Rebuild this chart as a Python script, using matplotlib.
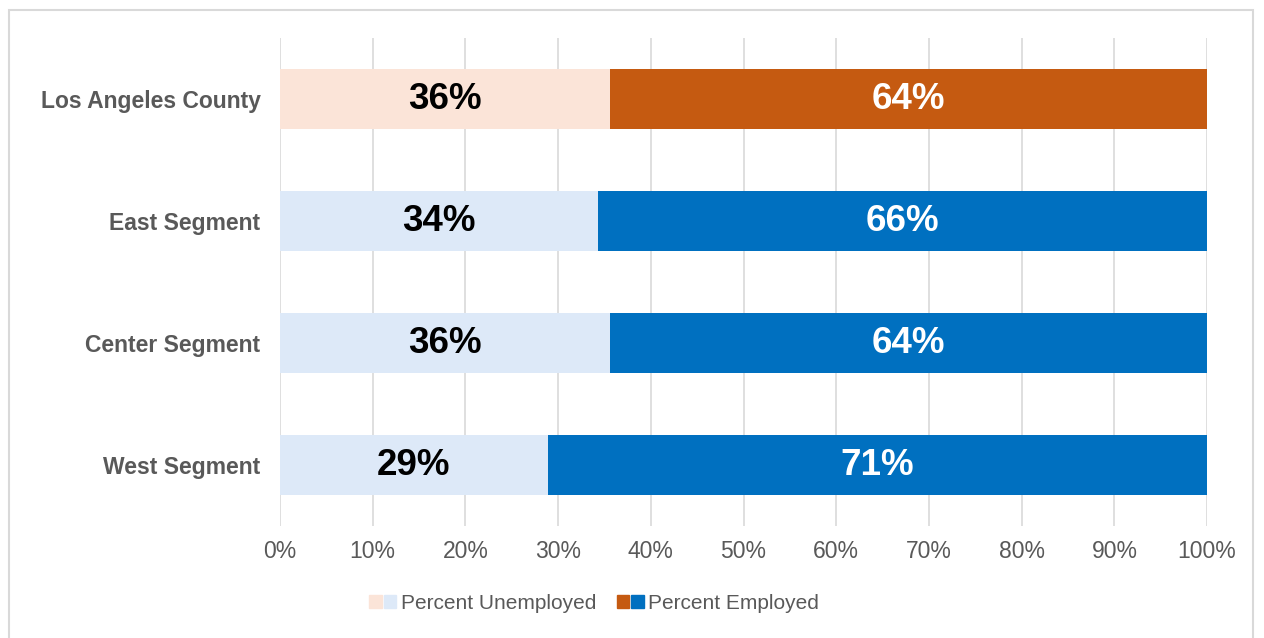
import matplotlib.pyplot as plt
from matplotlib.patches import Rectangle
from matplotlib.legend_handler import HandlerTuple

plt.rcParams['font.family'] = ['Liberation Sans', 'DejaVu Sans']

# data
categories = ['Los Angeles County', 'East Segment', 'Center Segment', 'West Segment']
unemployed = [35.6, 34.3, 35.6, 28.9]
employed = [64.4, 65.7, 64.4, 71.1]
ticks = [0, 10, 20, 30, 40, 50, 60, 70, 80, 90, 100]

# colours: first row (county) in orange, segments in blue
emp_colors = ['#C55A11', '#0070C0', '#0070C0', '#0070C0']
unemp_colors = ['#FBE4D8', '#DDE9F8', '#DDE9F8', '#DDE9F8']

fig = plt.figure(figsize=(12.64, 6.38), dpi=100)
ax = fig.add_axes([0.2215, 0.175, 0.7335, 0.765])

# outer frame
fig.patches.append(Rectangle((9 / 1264, -0.05), 1244 / 1264, 1 - 10 / 638 + 0.05,
                             transform=fig.transFigure, fill=False,
                             edgecolor='#d9d9d9', lw=1.5))

y = list(range(len(categories)))
h = 0.49
ax.barh(y, unemployed, height=h, color=unemp_colors, zorder=2)
ax.barh(y, employed, left=unemployed, height=h, color=emp_colors, zorder=2)

for i in y:
    ax.text(unemployed[i] / 2, i, f'{unemployed[i]:.0f}%', ha='center', va='center',
            fontsize=26.5, fontweight='bold', color='black', zorder=3)
    ax.text(unemployed[i] + employed[i] / 2, i, f'{employed[i]:.0f}%', ha='center',
            va='center', fontsize=26.5, fontweight='bold', color='white', zorder=3)

ax.set_xlim(0, 100)
ax.set_ylim(3.5, -0.5)
ax.set_xticks(ticks)
ax.set_xticklabels([f'{t}%' for t in ticks], fontsize=16.5, color='#595959')
ax.set_yticks(y)
ax.set_yticklabels(categories, fontsize=16.5, fontweight='bold', color='#595959')
ax.tick_params(axis='both', length=0)
ax.tick_params(axis='x', pad=10)
ax.tick_params(axis='y', pad=14)
ax.grid(axis='x', color='#d9d9d9', lw=1.2, zorder=0)
ax.set_axisbelow(True)
for s in ax.spines.values():
    s.set_visible(False)

h_un = (Rectangle((0, 0), 1, 1, color=unemp_colors[0]), Rectangle((0, 0), 1, 1, color=unemp_colors[1]))
h_em = (Rectangle((0, 0), 1, 1, color=emp_colors[0]), Rectangle((0, 0), 1, 1, color=emp_colors[1]))
fig.legend([h_un, h_em], ['Percent Unemployed', 'Percent Employed'],
           handler_map={tuple: HandlerTuple(ndivide=None, pad=0.1)},
           loc='center', bbox_to_anchor=(0.47, 0.054), ncol=2, frameon=False,
           fontsize=15, labelcolor='#595959', handlelength=1.3, handleheight=0.6,
           handletextpad=0.2, columnspacing=1.0)

fig.savefig('out.png', dpi=100)
